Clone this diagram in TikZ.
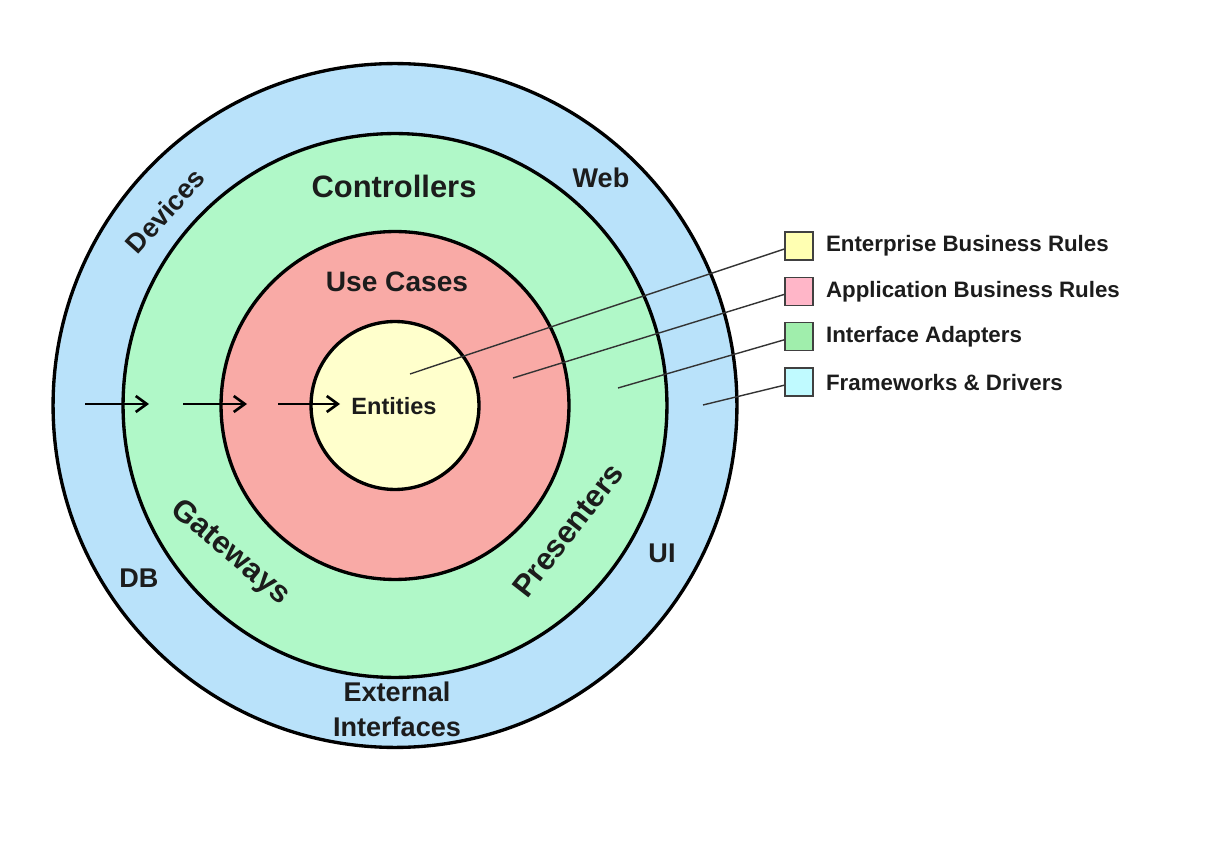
\documentclass[tikz,border=0pt]{standalone}
\usepackage{fontspec}
\setmainfont{Liberation Sans}
\usetikzlibrary{positioning,arrows.meta}

\definecolor{fwblue}{RGB}{185,226,250}
\definecolor{iagreen}{RGB}{176,248,200}
\definecolor{abrred}{RGB}{249,170,166}
\definecolor{ebryellow}{RGB}{255,255,204}
\definecolor{keyyellow}{RGB}{255,255,178}
\definecolor{keypink}{RGB}{255,182,200}
\definecolor{keygreen}{RGB}{160,238,172}
\definecolor{keycyan}{RGB}{192,250,255}
\definecolor{ink}{RGB}{28,28,28}

\tikzset{
  ring/.style={circle,draw=black,line width=1.9pt,inner sep=0pt},
  layer/.style={font=\fontsize{17.6}{20}\selectfont\bfseries,text=ink},
  outer/.style={font=\fontsize{15.4}{19.9}\selectfont\bfseries,text=ink},
  key/.style={draw=black!75,line width=0.8pt,minimum size=0.56cm,inner sep=0pt},
  keytext/.style={font=\fontsize{12.7}{15}\selectfont\bfseries,text=ink,inner sep=0pt,anchor=west},
  leader/.style={draw=black!80,line width=0.8pt},
  flow/.style={draw=black,line width=1.4pt,-{Straight Barb[length=0.22cm,width=0.32cm,line width=1.5pt]}}
}

\begin{document}
\begin{tikzpicture}[x=0.02cm,y=-0.02cm]
\useasboundingbox (0,0) rectangle (1232,858);

% the four layers, outside in
\node[ring,fill=fwblue,minimum size=13.68cm] (fw) at (395,405.5) {};
\node[ring,fill=iagreen,minimum size=10.88cm] (ia) at (395,405.5) {};
\node[ring,fill=abrred,minimum size=6.96cm] (abr) at (395,405.5) {};
\node[ring,fill=ebryellow,minimum size=3.36cm] (ebr) at (395,405.5) {};

% labels in the rings
\node[outer] (web) at (601,178) {Web};
\node[outer] (db) at (139,578) {DB};
\node[outer] (ui) at (662,553) {UI};
\node[outer,rotate=48] (dev) at (165,211) {Devices};
\node[outer,align=center] (ext) at (397,709) {External\\Interfaces};
\node[layer] (ctrl) at (394,186) {Controllers};
\node[layer] (gw) at (230,553) [rotate=-40] {Gateways};
\node[layer] (pres) at (568,530) [rotate=52] {Presenters};
\node[font=\fontsize{16}{19}\selectfont\bfseries,text=ink] (uc) at (397,282) {Use Cases};
\node[font=\fontsize{13.4}{16}\selectfont\bfseries,text=ink] (ent) at (394,406) {Entities};

% dependency arrows
\coordinate (a1s) at (85,404);  \coordinate (a1e) at (149,404);
\coordinate (a2s) at (183,404); \coordinate (a2e) at (247,404);
\coordinate (a3s) at (278,404); \coordinate (a3e) at (340,404);
\draw[flow] (a1s) -- (a1e);
\draw[flow] (a2s) -- (a2e);
\draw[flow] (a3s) -- (a3e);

% legend
\node[key,fill=keyyellow] (k1) at (799,246) {};
\node[key,fill=keypink,below=0.32cm of k1] (k2) {};
\node[key,fill=keygreen,below=0.32cm of k2] (k3) {};
\node[key,fill=keycyan,below=0.32cm of k3] (k4) {};
\node[keytext,right=0.24cm of k1] (t1) {Enterprise Business Rules};
\node[keytext,right=0.24cm of k2] (t2) {Application Business Rules};
\node[keytext,right=0.24cm of k3] (t3) {Interface Adapters};
\node[keytext,right=0.24cm of k4] (t4) {Frameworks \& Drivers};

% leader lines
\coordinate (p1) at (410,374);
\coordinate (p2) at (513,378);
\coordinate (p3) at (618,388);
\coordinate (p4) at (703,405);
\draw[leader] (p1) -- ([yshift=-0.06cm]k1.west);
\draw[leader] (p2) -- ([yshift=-0.06cm]k2.west);
\draw[leader] (p3) -- ([yshift=-0.06cm]k3.west);
\draw[leader] (p4) -- ([yshift=-0.06cm]k4.west);
\end{tikzpicture}
\end{document}
